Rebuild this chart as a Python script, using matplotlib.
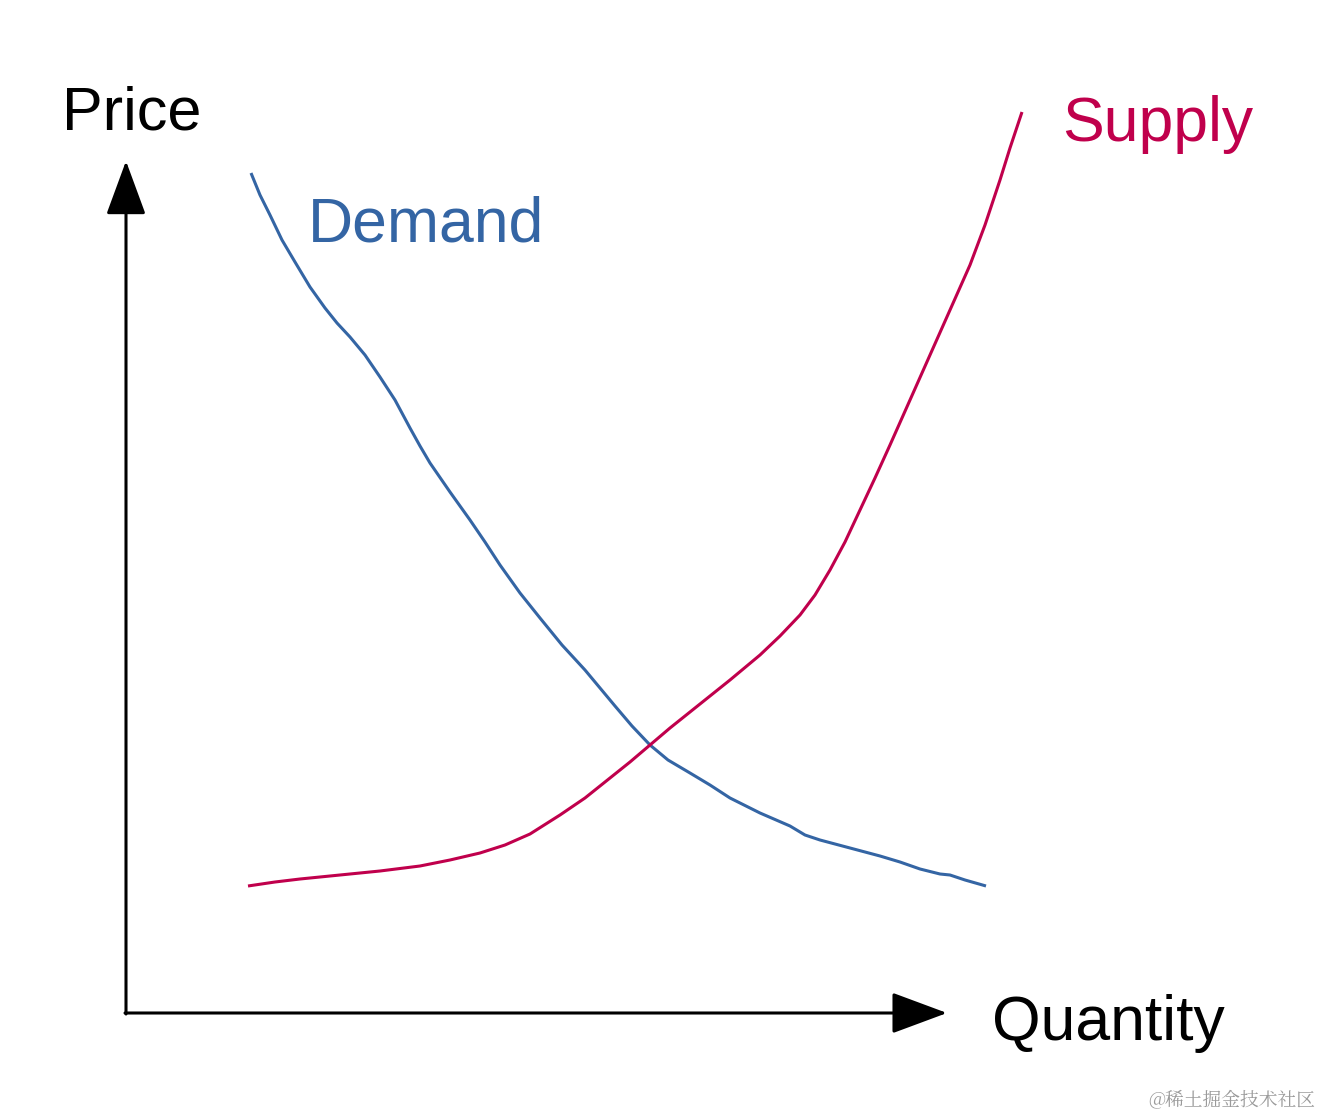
import matplotlib.pyplot as plt

# Quantity / price readings (arbitrary units, origin at the axis corner)
demand_q = [12.5, 13.4, 14.4, 15.6, 16.9, 18.4, 19.9, 21.1, 22.4, 23.9, 25.4,
            26.9, 28.4, 29.4, 30.4, 32.4, 34.4, 35.9, 37.4, 39.4, 41.4, 43.6,
            45.9, 47.4, 48.9, 50.6, 52.4, 54.2, 56.4, 58.4, 60.4, 63.4, 66.4,
            67.9, 69.4, 72.4, 75.4, 77.4, 79.4, 81.4, 82.4, 83.9, 86.0]
demand_p = [84.0, 81.8, 79.8, 77.3, 75.1, 72.6, 70.5, 69.0, 67.6, 65.8, 63.6,
            61.3, 58.5, 56.7, 55.0, 52.1, 49.3, 47.1, 44.8, 42.0, 39.5, 36.8,
            34.3, 32.5, 30.7, 28.7, 26.8, 25.3, 24.0, 22.8, 21.5, 20.0, 18.7,
            17.8, 17.3, 16.5, 15.7, 15.1, 14.4, 13.9, 13.8, 13.3, 12.7]

supply_q = [12.2, 14.9, 17.4, 21.4, 25.4, 29.4, 32.4, 35.4, 37.9, 40.4, 43.4,
            45.9, 48.4, 50.4, 52.4, 54.4, 57.4, 60.4, 63.4, 65.4, 67.4, 68.9,
            70.4, 71.9, 73.4, 74.9, 76.4, 78.4, 80.4, 82.4, 84.4, 85.9, 87.4,
            88.4, 89.6]
supply_p = [12.7, 13.1, 13.4, 13.8, 14.2, 14.7, 15.3, 16.0, 16.8, 17.9, 19.8,
            21.5, 23.5, 25.1, 26.8, 28.5, 30.9, 33.3, 35.8, 37.7, 39.8, 41.8,
            44.3, 47.1, 50.3, 53.5, 56.8, 61.3, 65.8, 70.3, 74.8, 78.8, 83.3,
            86.5, 90.1]

demand_color = '#3465a4'
supply_color = '#c0004c'

fig = plt.figure(figsize=(13.22, 11.14), dpi=100)
ax = fig.add_axes([0, 0, 1, 1])
ax.set_xlim(-12.6, 119.6)
ax.set_ylim(-10.1, 101.3)
ax.axis('off')

plt.rcParams['font.family'] = ['Liberation Sans', 'DejaVu Sans']

# axes with filled arrow heads
ax.annotate('', xy=(0, 85.2), xytext=(0, -0.1),
            arrowprops=dict(arrowstyle='-|>,head_length=3.4,head_width=1.25',
                            color='black', lw=2.2, shrinkA=0, shrinkB=0))
ax.annotate('', xy=(82.1, 0), xytext=(-0.1, 0),
            arrowprops=dict(arrowstyle='-|>,head_length=3.5,head_width=1.3',
                            color='black', lw=2.2, shrinkA=0, shrinkB=0))

ax.plot(demand_q, demand_p, color=demand_color, lw=2.2,
        solid_joinstyle='round', solid_capstyle='butt')
ax.plot(supply_q, supply_p, color=supply_color, lw=2.2,
        solid_joinstyle='round', solid_capstyle='butt')

ax.text(-6.4, 88.3, 'Price', fontsize=44, color='black', va='baseline')
ax.text(18.2, 77.2, 'Demand', fontsize=45, color=demand_color, va='baseline')
ax.text(93.6, 87.2, 'Supply', fontsize=45, color=supply_color, va='baseline')
ax.text(86.6, -2.7, 'Quantity', fontsize=45, color='black', va='baseline')

ax.text(118.9, -9.2, '@稀土掘金技术社区', fontsize=13.5, color='#9a9a9a',
        ha='right', va='baseline',
        family=['Noto Serif CJK SC', 'Noto Sans CJK SC', 'DejaVu Sans'])

fig.savefig('out.png', dpi=100, facecolor='white')
